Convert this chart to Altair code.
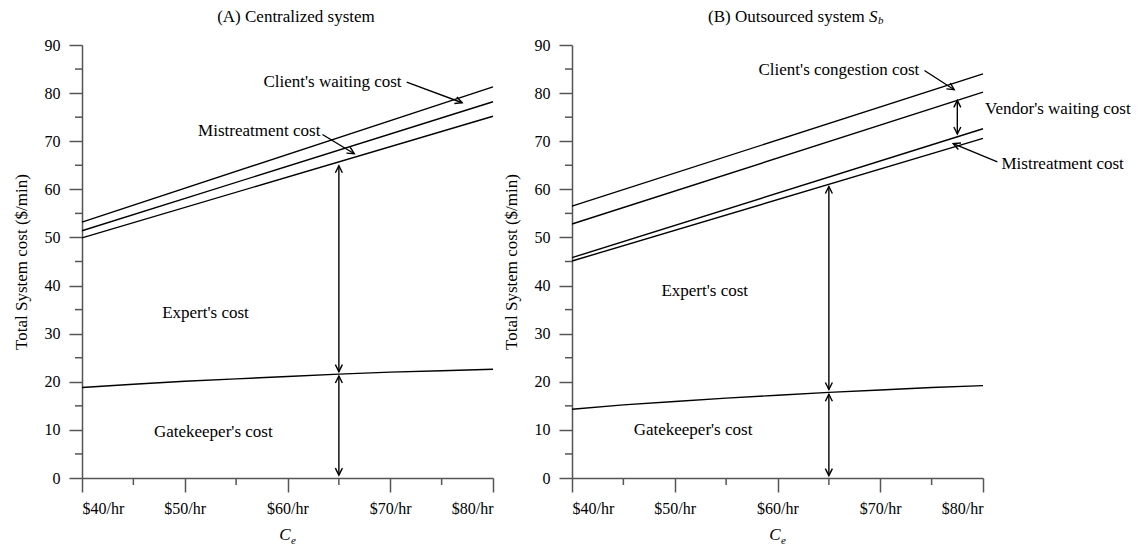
import math
import altair as alt
import pandas as pd

FONT = "Liberation Serif"
W, H = 411, 433
SX = W / 40.0   # px per $/hr, used only to orient arrowheads
SY = H / 90.0   # px per $/min

# ---------------- data ----------------
ce_curve = [40, 45, 50, 55, 60, 65, 70, 75, 80]
gate_a = [18.8, 19.5, 20.1, 20.6, 21.1, 21.6, 22.0, 22.3, 22.6]
gate_b = [14.3, 15.2, 15.9, 16.6, 17.2, 17.8, 18.3, 18.8, 19.2]

ce_line = [40, 80]
expert_top_a = [49.9, 75.2]
mistreat_top_a = [51.4, 78.2]
client_top_a = [53.2, 81.3]

mistreat_low_b = [45.1, 70.6]
mistreat_top_b = [45.8, 72.6]
vendor_top_b = [52.8, 80.2]
client_top_b = [56.5, 84.0]

# arrows: x1, y1, x2, y2, heads
arrows_a = [
    (65, 22.1, 65, 64.9, "both"),
    (65, 0.6, 65, 21.2, "both"),
    (71.6, 82.3, 77.0, 78.0, "end"),
    (63.4, 71.4, 66.5, 67.4, "end"),
]
arrows_b = [
    (65, 18.4, 65, 60.6, "both"),
    (65, 0.5, 65, 17.4, "both"),
    (77.5, 71.5, 77.5, 78.5, "both"),
    (74.3, 84.7, 77.2, 80.7, "end"),
    (81.4, 65.7, 77.1, 69.5, "end"),
]

# annotation texts: text, x, y, align
texts_a = [
    ("Client's waiting cost", 71.1, 82.4, "right"),
    ("Mistreatment cost", 63.2, 72.2, "right"),
    ("Expert's cost", 47.8, 34.2, "left"),
    ("Gatekeeper's cost", 47.0, 9.6, "left"),
]
texts_b = [
    ("Client's congestion cost", 73.8, 84.9, "right"),
    ("Vendor's waiting cost", 80.2, 76.6, "left"),
    ("Mistreatment cost", 81.8, 65.2, "left"),
    ("Expert's cost", 48.7, 38.8, "left"),
    ("Gatekeeper's cost", 46.0, 9.9, "left"),
]

x_major = [40, 50, 60, 70, 80]
x_minor = [45, 55, 65, 75]
y_major = [0, 10, 20, 30, 40, 50, 60, 70, 80, 90]
y_minor = [5, 15, 25, 35, 45, 55, 65, 75, 85]

# ---------------- helpers ----------------
xscale = alt.Scale(domain=[40, 80], nice=False, zero=False)
yscale = alt.Scale(domain=[0, 90], nice=False, zero=False)
xaxis = alt.Axis(values=x_major, labelExpr="'$' + datum.value + '/hr'", title=None,
                 tickSize=14, labelPadding=8)
yaxis = alt.Axis(values=y_major, title="Total System cost ($/min)", tickSize=13,
                 labelPadding=9, titlePadding=14)


def xenc(f="x"):
    return alt.X(f"{f}:Q", scale=xscale, axis=xaxis)


def yenc(f="y"):
    return alt.Y(f"{f}:Q", scale=yscale, axis=yaxis)


def panel(curves, arrows, texts, title_parts):
    rows = []
    for name, xs, ys in curves:
        for xv, yv in zip(xs, ys):
            rows.append({"series": name, "x": xv, "y": yv})
    lines_df = pd.DataFrame(rows)

    arr_df = pd.DataFrame([{"x": a[0], "y": a[1], "x2": a[2], "y2": a[3]} for a in arrows])
    heads = []
    for x1, y1, x2, y2, mode in arrows:
        dx = (x2 - x1) * SX
        dy = -(y2 - y1) * SY
        ang = math.degrees(math.atan2(dx, -dy)) % 360
        heads.append({"x": x2, "y": y2, "ang": ang})
        if mode == "both":
            heads.append({"x": x1, "y": y1, "ang": (ang + 180) % 360})
    heads_df = pd.DataFrame(heads)

    layers = []
    layers.append(
        alt.Chart(lines_df).mark_line(color="black", strokeWidth=1.4)
        .encode(x=xenc(), y=yenc(), detail="series:N")
    )
    layers.append(
        alt.Chart(arr_df).mark_rule(color="black", strokeWidth=1.4)
        .encode(x=xenc(), y=yenc(), x2="x2:Q", y2="y2:Q")
    )
    layers.append(
        alt.Chart(heads_df).mark_point(shape="M-0.5,1 L0,0 L0.5,1", filled=False,
                                       color="black", strokeWidth=1.4, size=196, opacity=1)
        .encode(x=xenc(), y=yenc(), angle=alt.Angle("ang:Q", scale=None))
    )
    for al in ["left", "right", "center"]:
        sub = [t for t in texts if t[3] == al]
        if not sub:
            continue
        tdf = pd.DataFrame([{"t": t[0], "x": t[1], "y": t[2]} for t in sub])
        layers.append(
            alt.Chart(tdf).mark_text(font=FONT, fontSize=17, color="black", align=al,
                                     baseline="middle")
            .encode(x=xenc(), y=yenc(), text="t:N")
        )
    # minor ticks
    layers.append(
        alt.Chart(pd.DataFrame({"x": x_minor})).mark_rule(color="#555", strokeWidth=1.5)
        .encode(x=xenc(), y=alt.value(H), y2=alt.value(H + 7))
    )
    layers.append(
        alt.Chart(pd.DataFrame({"y": y_minor})).mark_rule(color="#555", strokeWidth=1.5)
        .encode(y=yenc(), x=alt.value(0), x2=alt.value(-7))
    )
    # x-axis title C_e
    layers.append(
        alt.Chart(pd.DataFrame({"t": ["C"]})).mark_text(font=FONT, fontSize=17, fontStyle="italic",
                                                        color="black", align="center", baseline="middle")
        .encode(x=alt.value(203), y=alt.value(H + 57), text="t:N")
    )
    layers.append(
        alt.Chart(pd.DataFrame({"t": ["e"]})).mark_text(font=FONT, fontSize=11, fontStyle="italic",
                                                        color="black", align="left", baseline="middle")
        .encode(x=alt.value(209), y=alt.value(H + 63), text="t:N")
    )
    # panel title pieces
    for txt, px, dy, size, style, al in title_parts:
        layers.append(
            alt.Chart(pd.DataFrame({"t": [txt]})).mark_text(font=FONT, fontSize=size, fontStyle=style,
                                                            color="black", align=al, baseline="middle")
            .encode(x=alt.value(px), y=alt.value(-28 + dy), text="t:N")
        )
    return alt.layer(*layers).properties(width=W, height=H)


left = panel(
    [("gate", ce_curve, gate_a), ("expert", ce_line, expert_top_a),
     ("mistreat", ce_line, mistreat_top_a), ("client", ce_line, client_top_a)],
    arrows_a, texts_a,
    [("(A) Centralized system", 214, 0, 17, "normal", "center")],
)
right = panel(
    [("gate", ce_curve, gate_b), ("m_low", ce_line, mistreat_low_b),
     ("m_top", ce_line, mistreat_top_b), ("vendor", ce_line, vendor_top_b),
     ("client", ce_line, client_top_b)],
    arrows_b, texts_b,
    [("(B) Outsourced system", 136, 0, 17, "normal", "left"),
     ("S", 297, 0, 17, "italic", "left"),
     ("b", 306, 4, 11, "italic", "left")],
)

chart = (
    alt.hconcat(left, right, spacing=6)
    .properties(padding={"left": 4, "top": 0, "right": 0, "bottom": 0})
    .configure_view(stroke=None)
    .configure_axis(grid=False, domainColor="#555", domainWidth=1.5, tickColor="#555",
                    tickWidth=1.5, labelFont=FONT, labelFontSize=16, labelColor="black",
                    titleFont=FONT, titleFontSize=17, titleFontWeight="normal", titleColor="black")
)

chart.save("out.html", embed_options={"renderer": "svg", "actions": False})
